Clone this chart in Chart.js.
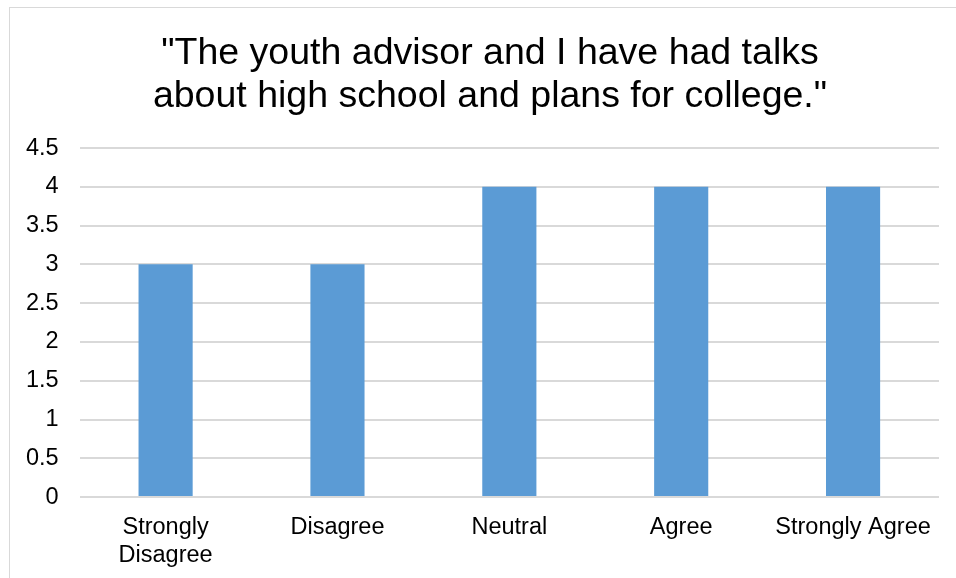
<!DOCTYPE html>
<html><head><meta charset="utf-8">
<script src="https://cdn.jsdelivr.net/npm/chart.js@4"></script>
<style>
html,body{margin:0;padding:0;background:#fff;width:956px;height:578px;overflow:hidden;}
#frame{position:absolute;left:9px;top:7px;width:1000px;height:700px;border:1px solid #d9d9d9;box-sizing:border-box;}
#wrap{position:absolute;left:0;top:0;width:956px;height:600px;}
</style></head>
<body>
<div id="frame"></div>
<div id="wrap"><canvas id="c" width="956" height="600"></canvas></div>
<script>
const titleLines = ['"The youth advisor and I have had talks', 'about high school and plans for college."'];
const categories = [['Strongly', 'Disagree'], 'Disagree', 'Neutral', 'Agree', 'Strongly Agree'];
const values = [3, 3, 4, 4, 4];
const yMin = 0, yMax = 4.5, yStep = 0.5;

Chart.defaults.font.family = '"Liberation Sans", Arial, sans-serif';
Chart.defaults.color = '#000';

const shiftTitle = {
  id: 'shiftTitle',
  afterLayout(chart) {
    const tb = chart.titleBlock;
    if (tb) { tb.left += 36; }
  }
};

new Chart(document.getElementById('c'), {
  type: 'bar',
  data: {
    labels: categories,
    datasets: [{
      data: values,
      backgroundColor: '#5b9bd5',
      barPercentage: 0.315,
      categoryPercentage: 1.0
    }]
  },
  options: {
    responsive: false,
    animation: false,
    devicePixelRatio: 1,
    layout: { padding: { left: 5, right: 17, top: 32, bottom: 15 } },
    plugins: {
      legend: { display: false },
      tooltip: { enabled: false },
      title: {
        display: true,
        text: titleLines,
        font: { size: 37.5, weight: 'normal', lineHeight: 1.147 },
        padding: { top: 0, bottom: 30 },
        color: '#000'
      }
    },
    scales: {
      y: {
        min: yMin, max: yMax,
        ticks: { stepSize: yStep, font: { size: 23.5 }, padding: 21, color: '#000',
                 callback: v => String(Math.round(v * 10) / 10) },
        grid: { color: '#d9d9d9', lineWidth: 2, drawTicks: false },
        border: { display: false }
      },
      x: {
        ticks: { font: { size: 23.5, lineHeight: 1.19 }, padding: 16, color: '#000', maxRotation: 0, autoSkip: false },
        grid: { display: false, drawTicks: false },
        border: { display: false }
      }
    }
  },
  plugins: [shiftTitle]
});
</script>
</body></html>
